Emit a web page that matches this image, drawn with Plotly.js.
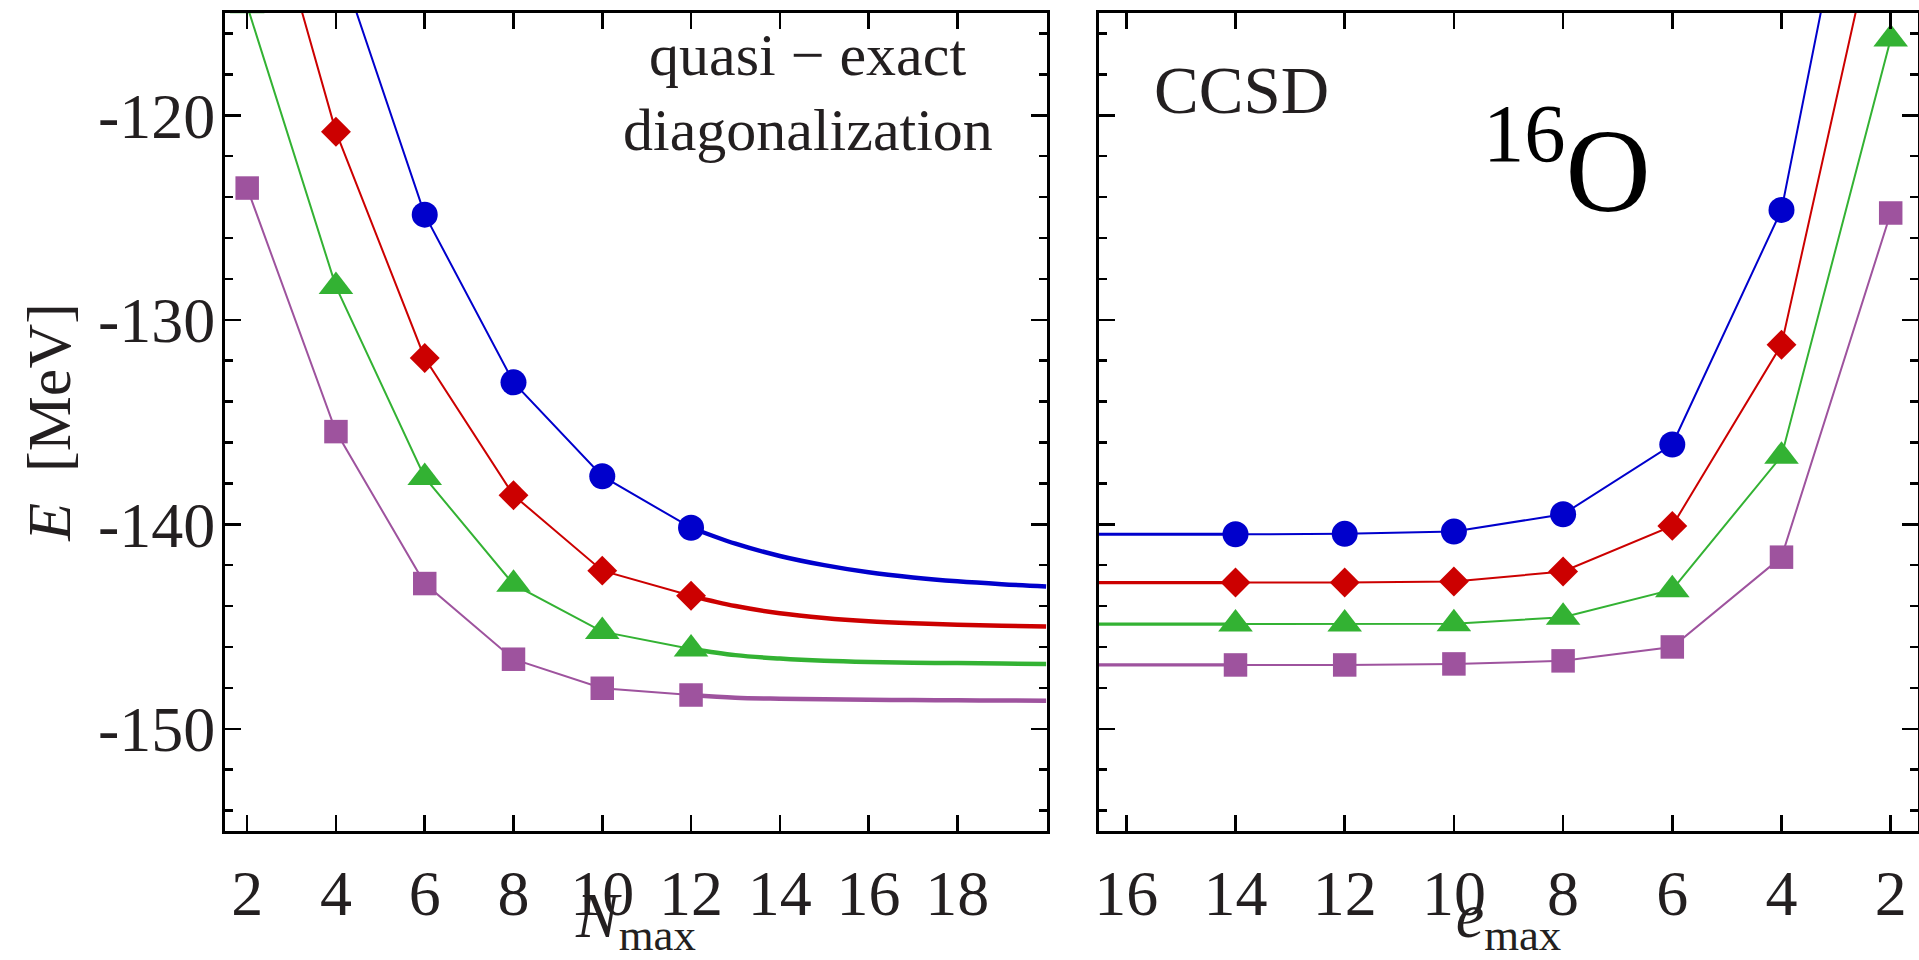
<!DOCTYPE html>
<html>
<head>
<meta charset="utf-8">
<script src="https://cdn.plot.ly/plotly-3.0.1.min.js"></script>
<style>
  html, body { margin: 0; padding: 0; background: #ffffff; }
  #chart { width: 1919px; height: 960px; }
</style>
</head>
<body>
<div id="chart"></div>
<script>
// Ground-state energy of 16O [MeV] for four interaction resolutions.

// Quasi-exact diagonalization, model-space truncation Nmax
const nmax = [2, 4, 6, 8, 10, 12];
const blueNcsm   = [null, -112.0, -124.86, -133.06, -137.65, -140.17];
const redNcsm    = [-105.5, -120.81, -131.87, -138.58, -142.27, -143.5];
const greenNcsm  = [-114.65, -128.38, -137.71, -142.94, -145.25, -146.1];
const purpleNcsm = [-123.56, -135.47, -142.9, -146.6, -148.02, -148.35];

// Extrapolation curves beyond the largest computed Nmax
const nmaxFit = [12, 13, 14, 15, 16, 17, 18, 19, 20];
const blueFit   = [-140.17, -140.95, -141.55, -142.0, -142.35, -142.6, -142.79, -142.93, -143.04];
const redFit    = [-143.5, -144.0, -144.35, -144.58, -144.74, -144.84, -144.91, -144.96, -145.0];
const greenFit  = [-146.1, -146.4, -146.57, -146.68, -146.74, -146.77, -146.79, -146.81, -146.83];
const purpleFit = [-148.35, -148.48, -148.53, -148.56, -148.58, -148.6, -148.61, -148.62, -148.63];

// Coupled-cluster CCSD, single-particle truncation emax
const emax = [14, 12, 10, 8, 6, 4, 2];
const blueCcsd   = [-140.49, -140.47, -140.36, -139.51, -136.1, -124.63, -97.8];
const redCcsd    = [-142.85, -142.85, -142.8, -142.31, -140.08, -131.22, -107.3];
const greenCcsd  = [-144.88, -144.88, -144.86, -144.55, -143.2, -136.67, -116.27];
const purpleCcsd = [-146.88, -146.88, -146.83, -146.68, -146.0, -141.61, -124.78];
// converged CCSD level carried on towards large emax
const emaxTail = [14, 18];

// Axis ticks
const nmaxTicks = [2, 4, 6, 8, 10, 12, 14, 16, 18];
const emaxTicks = [16, 14, 12, 10, 8, 6, 4, 2];
const energyTicks = [-150, -140, -130, -120];
const energyTickText = ['-150', '-140', '-130', '-120'];

const styles = [
  { color: '#0000CC', symbol: 'circle',      size: 26,   ncsm: blueNcsm,   fit: blueFit,   ccsd: blueCcsd },
  { color: '#CC0000', symbol: 'diamond',     size: 23,   ncsm: redNcsm,    fit: redFit,    ccsd: redCcsd },
  { color: '#33B233', symbol: 'triangle-up', size: 30,   ncsm: greenNcsm,  fit: greenFit,  ccsd: greenCcsd },
  { color: '#9E539E', symbol: 'square',      size: 23.5, ncsm: purpleNcsm, fit: purpleFit, ccsd: purpleCcsd }
];

const traces = [];
styles.forEach(s => {
  // thick extrapolation curve (left panel)
  traces.push({
    x: nmaxFit, y: s.fit, xaxis: 'x', yaxis: 'y', type: 'scatter', mode: 'lines',
    line: { color: s.color, width: 4.5, shape: 'spline', smoothing: 1 },
    hoverinfo: 'skip'
  });
  // computed points (left panel)
  traces.push({
    x: nmax, y: s.ncsm, xaxis: 'x', yaxis: 'y', type: 'scatter', mode: 'lines+markers',
    line: { color: s.color, width: 2 },
    marker: { color: s.color, symbol: s.symbol, size: s.size, line: { width: 0 } },
    connectgaps: false
  });
  // converged level (right panel)
  traces.push({
    x: emaxTail, y: [s.ccsd[0], s.ccsd[0]], xaxis: 'x2', yaxis: 'y2', type: 'scatter', mode: 'lines',
    line: { color: s.color, width: 3.2 },
    hoverinfo: 'skip'
  });
  // CCSD points (right panel)
  traces.push({
    x: emax, y: s.ccsd, xaxis: 'x2', yaxis: 'y2', type: 'scatter', mode: 'lines+markers',
    line: { color: s.color, width: 2 },
    marker: { color: s.color, symbol: s.symbol, size: s.size, line: { width: 0 } }
  });
});

const FONT = '"Liberation Serif", "DejaVu Serif", serif';
const TEXT = '#231F20';

const frame = {
  showline: true, linewidth: 3, linecolor: '#000000', mirror: 'ticks',
  ticks: 'inside', ticklen: 16, tickwidth: 2.5, tickcolor: '#000000',
  showgrid: false, zeroline: false, fixedrange: true,
  tickfont: { family: FONT, size: 64, color: TEXT }
};

const yMinor = { tickmode: 'linear', tick0: -150, dtick: 2, ticks: 'inside', ticklen: 8, tickwidth: 2.5, tickcolor: '#000000', showgrid: false };

const W = 1919, H = 960, ML = 225, MR = 1, MT = 13, MB = 129;
const PW = W - ML - MR, PH = H - MT - MB;
const px = v => (v - ML) / PW;
const py = v => (H - MB - v) / PH;

const layout = {
  width: W, height: H,
  margin: { l: ML, r: MR, t: MT, b: MB, pad: 0 },
  paper_bgcolor: '#ffffff', plot_bgcolor: '#ffffff',
  showlegend: false,
  font: { family: FONT, color: TEXT, size: 64 },
  xaxis: Object.assign({}, frame, {
    domain: [0, px(1047)], range: [1.5, 20.02], anchor: 'y',
    tickmode: 'array', tickvals: nmaxTicks, ticktext: nmaxTicks.map(String),
    ticklabelstandoff: 4,
    title: { text: '<i>N</i><sub>max</sub>', font: { family: FONT, size: 64, color: TEXT }, standoff: 7 }
  }),
  yaxis: Object.assign({}, frame, {
    domain: [0, 1], range: [-155, -115], anchor: 'x',
    tickmode: 'array', tickvals: energyTicks, ticktext: energyTickText,
    ticklabelstandoff: -6,
    minor: yMinor,
    title: { text: '<i>E</i>\u00a0\u00a0[MeV]', font: { family: FONT, size: 62, color: TEXT }, standoff: 8 }
  }),
  xaxis2: Object.assign({}, frame, {
    domain: [px(1099), 1], range: [16.5, 1.5], anchor: 'y2',
    tickmode: 'array', tickvals: emaxTicks, ticktext: emaxTicks.map(String),
    ticklabelstandoff: 4,
    title: { text: '<i>e</i><sub>max</sub>', font: { family: FONT, size: 64, color: TEXT }, standoff: 7 }
  }),
  yaxis2: Object.assign({}, frame, {
    domain: [0, 1], range: [-155, -115], anchor: 'x2',
    tickmode: 'array', tickvals: energyTicks, showticklabels: false,
    minor: yMinor
  }),
  annotations: [
    { text: 'quasi \u2212 exact', xref: 'paper', yref: 'paper', x: px(807.5), y: py(89.7),
      xanchor: 'center', yanchor: 'bottom', showarrow: false,
      font: { family: FONT, size: 60, color: TEXT } },
    { text: 'diagonalization', xref: 'paper', yref: 'paper', x: px(807.5), y: py(164.7),
      xanchor: 'center', yanchor: 'bottom', showarrow: false,
      font: { family: FONT, size: 60, color: TEXT } },
    { text: 'CCSD', xref: 'paper', yref: 'paper', x: px(1152), y: py(128.8),
      xanchor: 'left', yanchor: 'bottom', showarrow: false,
      font: { family: FONT, size: 67, color: TEXT } },
    { text: '<sup>16</sup>O', xref: 'paper', yref: 'paper', x: px(1481), y: py(239.5),
      xanchor: 'left', yanchor: 'bottom', showarrow: false,
      font: { family: FONT, size: 118, color: '#000000' } }
  ]
};

Plotly.newPlot('chart', traces, layout, { staticPlot: true, displayModeBar: false });
</script>
</body>
</html>
